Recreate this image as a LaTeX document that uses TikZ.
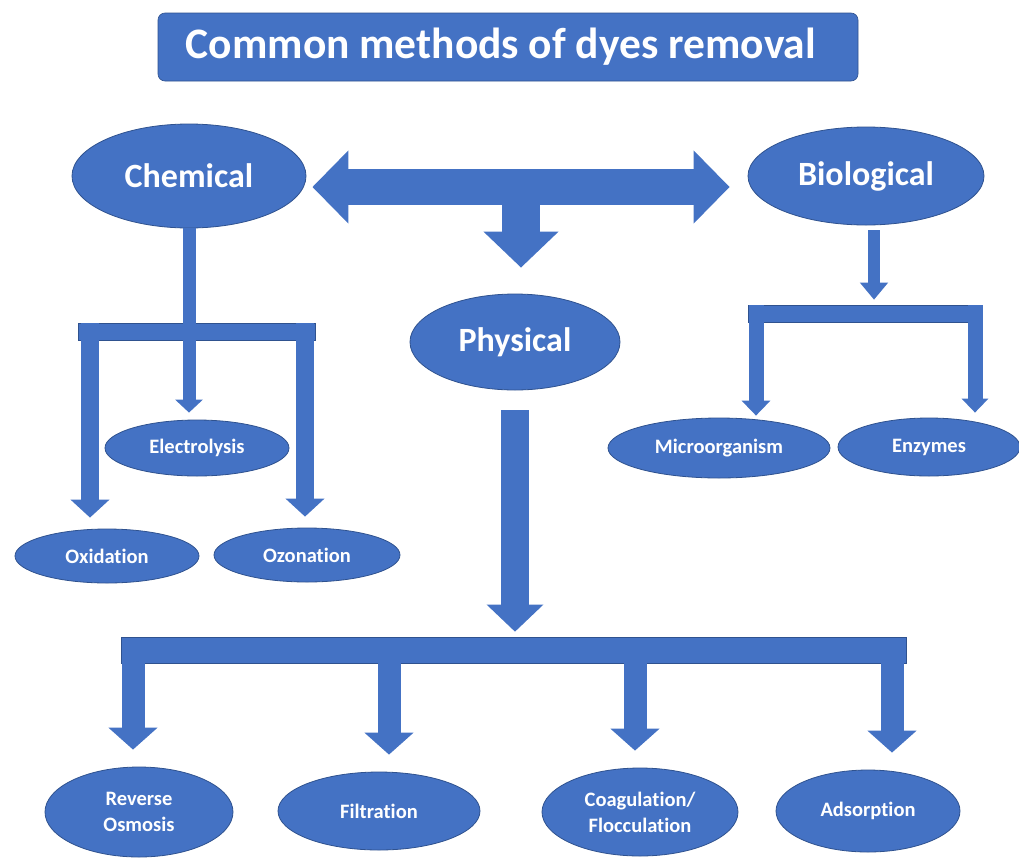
\documentclass[tikz,border=0pt]{standalone}
\usepackage{fontspec}
\setmainfont{Carlito}[Ligatures=NoCommon]
\usepackage{tikz}
\usetikzlibrary{shapes.geometric, arrows.meta, positioning, calc}
\usepackage{xcolor}
\definecolor{dyeblue}{HTML}{4472C4}
\definecolor{dyeline}{HTML}{2F528F}

\tikzset{
  method/.style={ellipse, fill=dyeblue, draw=dyeline, line width=0.8pt, text=white, inner sep=0pt, align=center, font=\bfseries\fontsize{20.5}{26}\selectfont},
  bigmethod/.style={method, font=\bfseries\fontsize{34}{40}\selectfont},
  barbox/.style={rectangle, fill=dyeblue, draw=dyeline, line width=0.6pt, inner sep=0pt},
  titlebox/.style={rectangle, rounded corners=7pt, fill=dyeblue, draw=dyeline, line width=0.6pt, text=white, font=\bfseries\fontsize{43.5}{48}\selectfont},
  pipe/.style={dyeblue, line width=#1},
}

\begin{document}
\begin{tikzpicture}[x=1pt, y=-1pt]
  \useasboundingbox (0,0) rectangle (1019,857);
  \fill[white] (0,0) rectangle (1019,857);

  % title
  \node[titlebox, minimum width=700pt, minimum height=68pt] (title) at (508,47) {\hspace*{-14pt}Common methods of dyes removal};

  % three main groups
  \node[bigmethod, minimum width=234pt, minimum height=104pt] (chem) at (189,176) {Chemical};
  \node[bigmethod, minimum width=236pt, minimum height=98pt] (bio) at (866,176) {Biological};
  \node[bigmethod, minimum width=210pt, minimum height=96pt] (phys) at (515,342) {Physical};

  \coordinate (hub) at (521,187);
  \draw[pipe=36pt, {Triangle[width=71pt,length=36pt]}-{Triangle[width=71pt,length=36pt]}, shorten <=6pt, shorten >=18pt] (chem.east |- hub) -- (bio.west |- hub);
  \draw[pipe=38pt, -{Triangle[width=73pt,length=36pt]}, shorten >=26pt] (hub) -- (hub |- phys.north);

  % chemical methods
  \node[barbox, minimum width=237pt, minimum height=17pt] (cbar) at (196.5,331.5) {};
  \node[method, minimum width=184pt, minimum height=56pt] (elec) at (197,448) {Electrolysis};
  \node[method, minimum width=184pt, minimum height=54pt] (oxid) at (107,556) {Oxidation};
  \node[method, minimum width=186pt, minimum height=54pt] (ozon) at (307,555) {Ozonation};
  \coordinate (cl) at (90,323);
  \coordinate (cr) at (305,323);
  \draw[pipe=13pt] (chem.south) -- (chem.south |- cbar.center);
  \draw[pipe=13pt, -{Triangle[width=27pt,length=13pt]}, shorten >=7pt] (chem.south |- cbar.south) -- (chem.south |- elec.north);
  \draw[pipe=18pt, -{Triangle[width=38pt,length=18pt]}, shorten >=11pt] (cl) -- (cl |- oxid.north);
  \draw[pipe=18pt, -{Triangle[width=38pt,length=18pt]}, shorten >=11pt] (cr) -- (cr |- ozon.north);

  % biological methods
  \node[barbox, minimum width=234pt, minimum height=17pt] (bbar) at (865,313.5) {};
  \node[method, minimum width=222pt, minimum height=60pt] (micro) at (719,448) {Microorganism};
  \node[method, minimum width=182pt, minimum height=58pt] (enz) at (929,447) {Enzymes};
  \coordinate (bs) at (874,230);
  \coordinate (bl) at (756,305);
  \coordinate (br) at (975,305);
  \draw[pipe=12pt, -{Triangle[width=27pt,length=17pt]}, shorten >=5pt] (bs) -- (bs |- bbar.north);
  \draw[pipe=15pt, -{Triangle[width=28pt,length=15pt]}, shorten >=2pt] (bl) -- (bl |- micro.north);
  \draw[pipe=15pt, -{Triangle[width=26pt,length=14pt]}, shorten >=5pt] (br) -- (br |- enz.north);

  % physical methods
  \node[barbox, minimum width=785pt, minimum height=26pt] (pbar) at (513.5,650) {};
  \node[method, minimum width=188pt, minimum height=90pt] (ro) at (139,812) {Reverse\\Osmosis};
  \node[method, minimum width=202pt, minimum height=78pt] (filt) at (379,811) {Filtration};
  \node[method, minimum width=196pt, minimum height=88pt] (coag) at (640,812) {Coagulation/\\Flocculation};
  \node[method, minimum width=184pt, minimum height=82pt] (ads) at (868,811) {Adsorption};
  \draw[pipe=28pt, -{Triangle[width=55pt,length=27pt]}, shorten <=20pt, shorten >=5pt] (phys.south) -- (phys.south |- pbar.north);
  \foreach \x/\n in {133/ro, 389/filt, 635/coag, 892/ads}
    \draw[pipe=23pt, -{Triangle[width=48pt,length=22pt]}, shorten >=17pt] (\x,0 |- pbar.center) -- (\x,0 |- \n.north);
\end{tikzpicture}
\end{document}
